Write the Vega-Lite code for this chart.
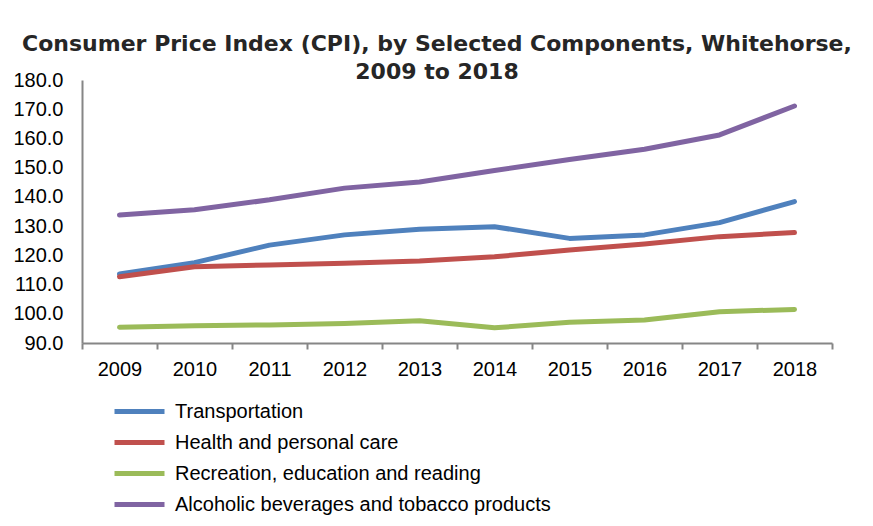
{
  "$schema": "https://vega.github.io/schema/vega-lite/v6.json",
  "width": 750,
  "height": 263,
  "autosize": "none",
  "padding": {"left": 82, "top": 80, "right": 41, "bottom": 183},
  "background": "white",
  "title": {
    "text": ["Consumer Price Index (CPI), by Selected Components, Whitehorse,", "2009 to 2018"],
    "font": "DejaVu Sans",
    "fontSize": 22,
    "fontWeight": "bold",
    "color": "#262626",
    "lineHeight": 28,
    "anchor": "middle",
    "dx": -20,
    "offset": -14
  },
  "data": {
    "values": [
      {"year": "2009", "series": "Transportation", "value": 113.6},
      {"year": "2010", "series": "Transportation", "value": 117.5},
      {"year": "2011", "series": "Transportation", "value": 123.5},
      {"year": "2012", "series": "Transportation", "value": 127.0},
      {"year": "2013", "series": "Transportation", "value": 128.9},
      {"year": "2014", "series": "Transportation", "value": 129.8},
      {"year": "2015", "series": "Transportation", "value": 125.8},
      {"year": "2016", "series": "Transportation", "value": 127.0},
      {"year": "2017", "series": "Transportation", "value": 131.2},
      {"year": "2018", "series": "Transportation", "value": 138.4},
      {"year": "2009", "series": "Health and personal care", "value": 112.7},
      {"year": "2010", "series": "Health and personal care", "value": 116.1},
      {"year": "2011", "series": "Health and personal care", "value": 116.7},
      {"year": "2012", "series": "Health and personal care", "value": 117.3},
      {"year": "2013", "series": "Health and personal care", "value": 118.1},
      {"year": "2014", "series": "Health and personal care", "value": 119.5},
      {"year": "2015", "series": "Health and personal care", "value": 121.8},
      {"year": "2016", "series": "Health and personal care", "value": 123.9},
      {"year": "2017", "series": "Health and personal care", "value": 126.4},
      {"year": "2018", "series": "Health and personal care", "value": 127.8},
      {"year": "2009", "series": "Recreation, education and reading", "value": 95.4},
      {"year": "2010", "series": "Recreation, education and reading", "value": 95.9},
      {"year": "2011", "series": "Recreation, education and reading", "value": 96.2},
      {"year": "2012", "series": "Recreation, education and reading", "value": 96.7},
      {"year": "2013", "series": "Recreation, education and reading", "value": 97.6},
      {"year": "2014", "series": "Recreation, education and reading", "value": 95.2},
      {"year": "2015", "series": "Recreation, education and reading", "value": 97.1},
      {"year": "2016", "series": "Recreation, education and reading", "value": 97.9},
      {"year": "2017", "series": "Recreation, education and reading", "value": 100.7},
      {"year": "2018", "series": "Recreation, education and reading", "value": 101.5},
      {"year": "2009", "series": "Alcoholic beverages and tobacco products", "value": 133.8},
      {"year": "2010", "series": "Alcoholic beverages and tobacco products", "value": 135.6},
      {"year": "2011", "series": "Alcoholic beverages and tobacco products", "value": 139.0},
      {"year": "2012", "series": "Alcoholic beverages and tobacco products", "value": 143.0},
      {"year": "2013", "series": "Alcoholic beverages and tobacco products", "value": 145.1},
      {"year": "2014", "series": "Alcoholic beverages and tobacco products", "value": 149.0},
      {"year": "2015", "series": "Alcoholic beverages and tobacco products", "value": 152.8},
      {"year": "2016", "series": "Alcoholic beverages and tobacco products", "value": 156.3},
      {"year": "2017", "series": "Alcoholic beverages and tobacco products", "value": 161.2},
      {"year": "2018", "series": "Alcoholic beverages and tobacco products", "value": 171.1}
    ]
  },
  "mark": {"type": "line", "strokeWidth": 5, "strokeCap": "round", "strokeJoin": "round"},
  "encoding": {
    "x": {
      "field": "year",
      "type": "ordinal",
      "scale": {"paddingInner": 0, "paddingOuter": 0},
      "axis": {
        "title": null,
        "labelAngle": 0,
        "labelFont": "Liberation Sans",
        "labelFontSize": 20,
        "labelColor": "#000000",
        "labelPadding": 10,
        "domainColor": "#868686",
        "domainWidth": 2,
        "tickColor": "#868686",
        "tickWidth": 2,
        "tickSize": 6,
        "tickBand": "extent",
        "grid": false
      }
    },
    "y": {
      "field": "value",
      "type": "quantitative",
      "scale": {"domain": [90, 180], "nice": false, "zero": false},
      "axis": {
        "title": null,
        "values": [90, 100, 110, 120, 130, 140, 150, 160, 170, 180],
        "format": ".1f",
        "labelFont": "Liberation Sans",
        "labelFontSize": 20,
        "labelColor": "#000000",
        "labelPadding": 19,
        "ticks": false,
        "tickSize": 0,
        "domainColor": "#868686",
        "domainWidth": 2,
        "grid": false
      }
    },
    "color": {
      "field": "series",
      "type": "nominal",
      "sort": ["Transportation", "Health and personal care", "Recreation, education and reading", "Alcoholic beverages and tobacco products"],
      "scale": {
        "domain": ["Transportation", "Health and personal care", "Recreation, education and reading", "Alcoholic beverages and tobacco products"],
        "range": ["#4F81BD", "#C0504D", "#9BBB59", "#8064A2"]
      },
      "legend": {
        "title": null,
        "orient": "none",
        "legendX": 45,
        "legendY": 319,
        "direction": "vertical",
        "symbolType": "M-2.5,0H2.5",
        "symbolSize": 400,
        "symbolStrokeWidth": 5,
        "labelFont": "Liberation Sans",
        "labelFontSize": 20,
        "labelColor": "#000000",
        "labelOffset": 23,
        "rowPadding": 8,
        "padding": 0,
        "labelLimit": 600
      }
    }
  },
  "config": {"view": {"stroke": null}}
}
